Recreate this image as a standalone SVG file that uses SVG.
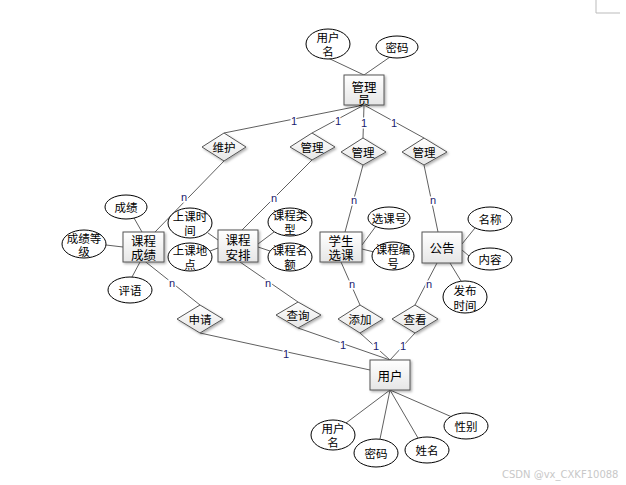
<svg xmlns="http://www.w3.org/2000/svg" width="626" height="485" viewBox="0 0 626 485">
<defs>
<linearGradient id="g" x1="0" y1="0" x2="0" y2="1"><stop offset="0" stop-color="#ffffff"/><stop offset="1" stop-color="#e6e6e6"/></linearGradient>
<filter id="sh" x="-20%" y="-20%" width="150%" height="150%"><feDropShadow dx="1.5" dy="1.5" stdDeviation="0.8" flood-color="#000" flood-opacity="0.3"/></filter>
</defs>
<style>
text{font-family:"Noto Sans CJK SC","Liberation Sans",sans-serif;fill:#000;text-anchor:middle;dominant-baseline:central}
.ent{fill:url(#g);stroke:#555;stroke-width:1;filter:url(#sh)}
.rel{fill:url(#g);stroke:#555;stroke-width:1;filter:url(#sh)}
.att{fill:#fff;stroke:#000;stroke-width:1}
.t13{font-size:12.5px}
.t12{font-size:11.5px}
.lbl{font-family:"Liberation Sans",sans-serif;font-size:11px;fill:#1a1a6e;stroke:#fff;stroke-width:3;paint-order:stroke}
#edges line{stroke:#606060;stroke-width:1}
.wm{font-family:"DejaVu Sans",sans-serif;font-size:10px;fill:#c8c8c8;text-anchor:start}
</style>
<rect width="626" height="485" fill="#fff"/>
<path d="M596 0V13H620" fill="none" stroke="#bbb" stroke-width="1"/>
<g id="edges">
<line x1="328" y1="58" x2="364" y2="75"/>
<line x1="390" y1="57" x2="364" y2="75"/>
<line x1="364" y1="105" x2="224" y2="133"/>
<line x1="364" y1="105" x2="312" y2="133"/>
<line x1="364" y1="105" x2="363" y2="138"/>
<line x1="364" y1="105" x2="424" y2="138"/>
<line x1="224" y1="161" x2="155" y2="232"/>
<line x1="312" y1="160" x2="242" y2="230"/>
<line x1="363" y1="165" x2="345" y2="232"/>
<line x1="424" y1="165" x2="438" y2="232"/>
<line x1="142" y1="259" x2="200" y2="305"/>
<line x1="240" y1="262" x2="298" y2="302"/>
<line x1="341" y1="262" x2="360" y2="305"/>
<line x1="437" y1="263" x2="415" y2="305"/>
<line x1="200" y1="333" x2="370" y2="370"/>
<line x1="298" y1="328" x2="390" y2="360"/>
<line x1="360" y1="333" x2="390" y2="360"/>
<line x1="415" y1="333" x2="390" y2="360"/>
<line x1="390" y1="390" x2="346" y2="423"/>
<line x1="390" y1="390" x2="380" y2="439"/>
<line x1="390" y1="390" x2="418" y2="438"/>
<line x1="390" y1="390" x2="452" y2="417"/>
<line x1="134" y1="218" x2="142" y2="232"/>
<line x1="106" y1="245" x2="123" y2="247"/>
<line x1="140" y1="262" x2="132" y2="277"/>
<line x1="208" y1="233" x2="218" y2="240"/>
<line x1="210" y1="251" x2="218" y2="248"/>
<line x1="274" y1="232" x2="258" y2="244"/>
<line x1="270" y1="251" x2="258" y2="247"/>
<line x1="376" y1="226" x2="362" y2="245"/>
<line x1="374" y1="252" x2="362" y2="249"/>
<line x1="475" y1="228" x2="462" y2="244"/>
<line x1="469" y1="256" x2="462" y2="250"/>
<line x1="450" y1="263" x2="461" y2="281"/>
<text class="lbl" x="294" y="121">1</text>
<text class="lbl" x="338" y="121">1</text>
<text class="lbl" x="364" y="123">1</text>
<text class="lbl" x="394" y="123">1</text>
<text class="lbl" x="184" y="197">n</text>
<text class="lbl" x="274" y="198">n</text>
<text class="lbl" x="354" y="200">n</text>
<text class="lbl" x="433" y="200">n</text>
<text class="lbl" x="172" y="283">n</text>
<text class="lbl" x="268" y="283">n</text>
<text class="lbl" x="352" y="284">n</text>
<text class="lbl" x="429" y="284">n</text>
<text class="lbl" x="286" y="354">1</text>
<text class="lbl" x="343" y="345">1</text>
<text class="lbl" x="376" y="346">1</text>
<text class="lbl" x="403" y="346">1</text>
</g>
<g id="admin"><rect class="ent" x="344" y="75" width="40" height="30"/><text class="t13" x="364" y="86">管理<tspan x="364" dy="13">员</tspan></text></g>
<g id="admin_name"><ellipse class="att" cx="328" cy="44" rx="22" ry="15"/><text class="t12" x="328" y="37">用户<tspan x="328" dy="14">名</tspan></text></g>
<g id="admin_pwd"><ellipse class="att" cx="397" cy="47" rx="21" ry="11"/><text class="t12" x="397" y="47">密码</text></g>
<g id="r_weihu"><polygon class="rel" points="224,133 246,147 224,161 202,147"/><text class="t12" x="224" y="147">维护</text></g>
<g id="r_guanli1"><polygon class="rel" points="312,133 335,147 312,160 290,147"/><text class="t12" x="312" y="147">管理</text></g>
<g id="r_guanli2"><polygon class="rel" points="363,138 386,152 363,165 341,152"/><text class="t12" x="363" y="152">管理</text></g>
<g id="r_guanli3"><polygon class="rel" points="424,138 447,152 424,165 402,152"/><text class="t12" x="424" y="152">管理</text></g>
<g id="score"><rect class="ent" x="123" y="232" width="41" height="30"/><text class="t13" x="143.5" y="240">课程<tspan x="143.5" dy="14">成绩</tspan></text></g>
<g id="a_chengji"><ellipse class="att" cx="126" cy="207" rx="21" ry="12"/><text class="t12" x="126" y="207">成绩</text></g>
<g id="a_dengji"><ellipse class="att" cx="84" cy="244" rx="22" ry="14"/><text class="t12" x="84" y="238">成绩等<tspan x="84" dy="13">级</tspan></text></g>
<g id="a_pingyu"><ellipse class="att" cx="130" cy="290" rx="22" ry="13"/><text class="t12" x="130" y="290">评语</text></g>
<g id="schedule"><rect class="ent" x="218" y="230" width="40" height="32"/><text class="t13" x="238" y="239">课程<tspan x="238" dy="15">安排</tspan></text></g>
<g id="a_sktime"><ellipse class="att" cx="190" cy="223" rx="22" ry="15"/><text class="t12" x="190" y="216">上课时<tspan x="190" dy="14">间</tspan></text></g>
<g id="a_skplace"><ellipse class="att" cx="190" cy="257" rx="22" ry="14"/><text class="t12" x="190" y="250">上课地<tspan x="190" dy="14">点</tspan></text></g>
<g id="a_kctype"><ellipse class="att" cx="290" cy="222" rx="22" ry="14"/><text class="t12" x="290" y="215">课程类<tspan x="290" dy="14">型</tspan></text></g>
<g id="a_kcquota"><ellipse class="att" cx="290" cy="257" rx="22" ry="14"/><text class="t12" x="290" y="250">课程名<tspan x="290" dy="14">额</tspan></text></g>
<g id="select"><rect class="ent" x="320" y="232" width="42" height="30"/><text class="t13" x="341" y="240">学生<tspan x="341" dy="14">选课</tspan></text></g>
<g id="a_xkh"><ellipse class="att" cx="389" cy="218" rx="21" ry="11"/><text class="t12" x="389" y="218">选课号</text></g>
<g id="a_kcbh"><ellipse class="att" cx="393" cy="256" rx="21" ry="14"/><text class="t12" x="393" y="249">课程编<tspan x="393" dy="14">号</tspan></text></g>
<g id="notice"><rect class="ent" x="422" y="232" width="40" height="31"/><text class="t13" x="442" y="247">公告</text></g>
<g id="a_mc"><ellipse class="att" cx="490" cy="219" rx="22" ry="12"/><text class="t12" x="490" y="219">名称</text></g>
<g id="a_nr"><ellipse class="att" cx="490" cy="259" rx="22" ry="11"/><text class="t12" x="490" y="259">内容</text></g>
<g id="a_fbsj"><ellipse class="att" cx="465" cy="297" rx="22" ry="16"/><text class="t12" x="465" y="290">发布<tspan x="465" dy="15">时间</tspan></text></g>
<g id="r_shenqing"><polygon class="rel" points="200,305 223,319 200,333 177,319"/><text class="t12" x="200" y="319">申请</text></g>
<g id="r_chaxun"><polygon class="rel" points="298,302 321,315 298,328 276,315"/><text class="t12" x="298" y="315">查询</text></g>
<g id="r_tianjia"><polygon class="rel" points="360,305 383,319 360,333 338,319"/><text class="t12" x="360" y="319">添加</text></g>
<g id="r_chakan"><polygon class="rel" points="415,305 438,319 415,333 392,319"/><text class="t12" x="415" y="319">查看</text></g>
<g id="user"><rect class="ent" x="370" y="360" width="40" height="30"/><text class="t13" x="390" y="375">用户</text></g>
<g id="u_name"><ellipse class="att" cx="333" cy="435" rx="22" ry="15"/><text class="t12" x="333" y="428">用户<tspan x="333" dy="14">名</tspan></text></g>
<g id="u_pwd"><ellipse class="att" cx="376" cy="453" rx="22" ry="14"/><text class="t12" x="376" y="453">密码</text></g>
<g id="u_xm"><ellipse class="att" cx="427" cy="450" rx="22" ry="13"/><text class="t12" x="427" y="450">姓名</text></g>
<g id="u_xb"><ellipse class="att" cx="466" cy="426" rx="22" ry="13"/><text class="t12" x="466" y="426">性别</text></g>
<text class="wm" x="502" y="474">CSDN @vx_CXKF10088</text>
</svg>
